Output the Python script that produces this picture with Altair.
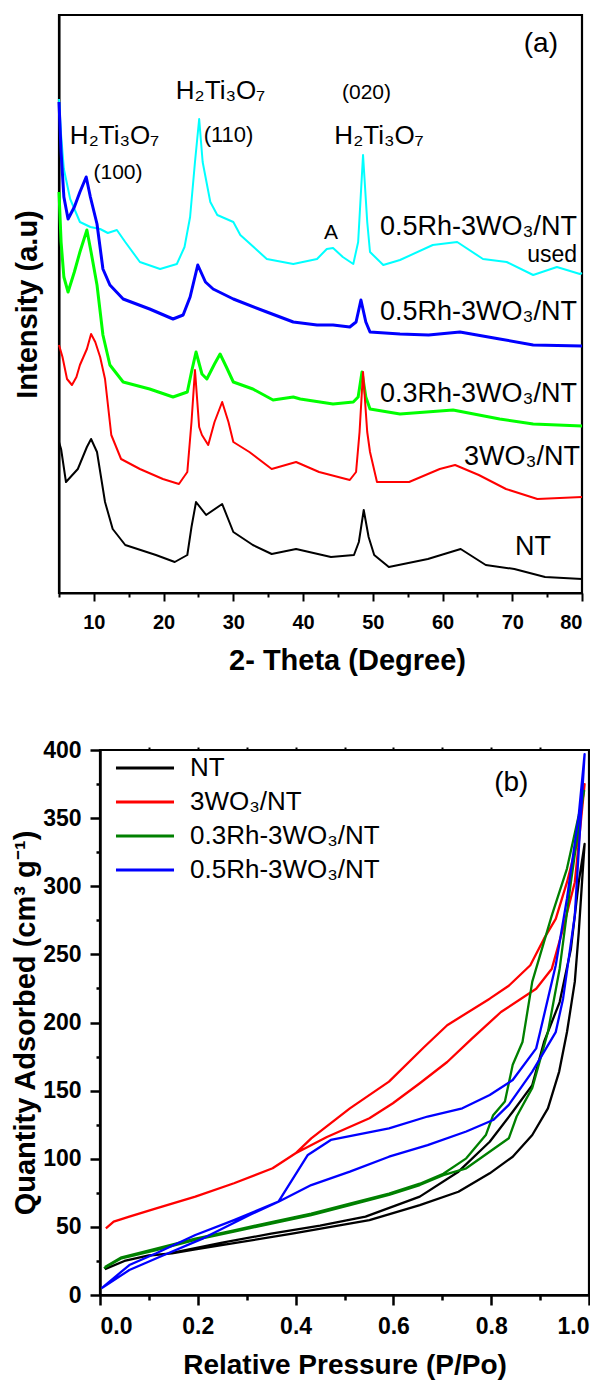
import altair as alt
import pandas as pd

FONT = "Liberation Sans, Arial, Noto Sans, DejaVu Sans, sans-serif"

# ---------------- Panel (a): XRD patterns (intensity in arbitrary units) ----------------
xrd_names = ["0.5Rh-3WO3/NT used", "0.5Rh-3WO3/NT", "0.3Rh-3WO3/NT", "3WO3/NT", "NT"]
xrd_colors = ["#00FFFF", "#0000FF", "#00FF00", "#FF0000", "#000000"]
xrd_widths = [2.0, 3.0, 3.0, 2.0, 2.0]

used_theta = [5.0, 5.3, 5.7, 6.6, 8.0, 9.5, 10.9, 12.0, 13.3, 14.5, 16.6, 19.5, 21.9, 23.0, 23.8,
              24.5, 25.1, 25.6, 26.7, 27.7, 30.0, 31.0, 34.8, 38.6, 42.0, 43.4, 44.3, 45.7, 47.2,
              47.9, 48.6, 49.2, 49.6, 51.5, 53.9, 58.6, 62.1, 65.8, 69.2, 73.0, 76.4, 79.7, 80.0]
used_int = [494, 458, 424, 394, 371, 366, 364, 360, 363, 351, 331, 324, 329, 346, 376,
            431, 474, 431, 391, 378, 371, 358, 334, 329, 334, 344, 345, 336, 329,
            351, 438, 371, 341, 328, 333, 348, 351, 334, 331, 318, 326, 319, 320]

rh5_theta = [5.0, 5.3, 5.7, 6.3, 7.2, 8.0, 8.9, 9.5, 10.45, 11.3, 12.3, 14.2, 18.0, 21.35, 22.8,
             23.8, 24.9, 26.0, 27.1, 30.0, 34.8, 38.6, 42.0, 44.3, 46.7, 47.6, 48.3, 49.0, 49.6,
             53.9, 58.0, 62.5, 68.2, 73.0, 80.0]
rh5_int = [491, 441, 396, 374, 386, 401, 416, 396, 369, 324, 308, 294, 284, 274, 278,
           296, 328, 311, 304, 294, 281, 271, 268, 268, 266, 271, 293, 271, 261,
           259, 258, 261, 254, 248, 247]

rh3_theta = [5.0, 5.3, 5.7, 6.3, 7.2, 8.0, 9.0, 9.6, 10.45, 11.3, 12.3, 14.2, 18.0, 21.35, 23.4,
             24.0, 24.65, 25.5, 26.2, 27.3, 28.1, 29.0, 30.0, 32.8, 35.7, 38.6, 39.6, 44.3, 47.2,
             47.9, 48.45, 49.0, 49.6, 53.9, 61.5, 68.2, 73.0, 80.0]
rh3_int = [401, 351, 316, 301, 321, 341, 363, 341, 308, 258, 228, 211, 204, 196, 201,
           221, 241, 219, 214, 229, 239, 226, 211, 204, 193, 196, 194, 189, 191,
           196, 221, 196, 184, 179, 183, 174, 169, 167]

wo3_theta = [5.0, 5.5, 6.15, 6.86, 7.5, 8.0, 9.0, 9.6, 10.2, 10.9, 11.6, 12.5, 13.9, 16.6, 19.9,
             22.2, 23.4, 24.0, 24.5, 25.1, 25.5, 26.4, 27.3, 28.4, 29.3, 30.0, 32.3, 35.5, 39.0,
             42.3, 46.7, 47.6, 48.1, 48.6, 49.2, 49.6, 50.6, 55.2, 59.6, 61.8, 65.2, 69.1, 73.6, 80.0]
wo3_int = [248, 236, 214, 208, 216, 228, 244, 259, 251, 236, 214, 158, 134, 124, 114,
           109, 121, 171, 223, 166, 158, 148, 171, 191, 171, 151, 141, 124, 131,
           121, 113, 121, 161, 221, 161, 141, 111, 111, 124, 128, 118, 104, 94, 96]

nt_theta = [5.0, 5.3, 6.0, 7.7, 9.0, 9.6, 10.45, 11.6, 12.7, 14.5, 18.9, 21.6, 23.4, 24.0, 24.65,
            26.1, 28.4, 30.0, 32.8, 35.5, 39.0, 44.0, 47.3, 48.0, 48.7, 49.4, 50.2, 52.3, 57.9,
            62.6, 66.2, 70.3, 74.7, 80.0]
nt_int = [151, 144, 111, 124, 146, 154, 141, 91, 64, 48, 38, 31, 38, 66, 91,
          78, 89, 61, 48, 39, 44, 36, 38, 51, 83, 56, 38, 26, 34,
          44, 28, 24, 16, 14]

ann_c_text = ["(a)", "H₂Ti₃O₇", "(100)", "H₂Ti₃O₇", "(110)", "(020)", "H₂Ti₃O₇", "A"]
ann_c_theta = [74.1, 12.96, 13.46, 28.16, 29.31, 49.1, 50.89, 44.0]
ann_c_int = [541, 449, 414, 494, 451, 494, 449, 354]
ann_c_size = [28, 26, 21, 26, 22, 21, 26, 21]

ann_r_text = ["0.5Rh-3WO₃/NT", "used", "0.5Rh-3WO₃/NT", "0.3Rh-3WO₃/NT", "3WO₃/NT", "NT"]
ann_r_theta = [79.29, 79.29, 79.29, 79.29, 79.7, 75.56]
ann_r_int = [358, 331, 273, 191, 128, 38]
ann_r_size = [27, 23, 27, 27, 27, 27]

# ---------------- Panel (b): N2 isotherms ----------------
iso_names = ["NT", "3WO₃/NT", "0.3Rh-3WO₃/NT", "0.5Rh-3WO₃/NT"]
iso_colors = ["#000000", "#FF0000", "#008000", "#0000FF"]

nt_P = [0.01, 0.05, 0.10, 0.147, 0.195, 0.274, 0.393, 0.472, 0.551, 0.654, 0.733, 0.797, 0.844,
        0.884, 0.916, 0.939, 0.955, 0.971, 0.979, 0.987, 0.991, 0.979, 0.963, 0.940, 0.908, 0.884,
        0.844, 0.797, 0.733, 0.654, 0.543, 0.450, 0.350, 0.250, 0.147]
nt_Q = [19, 25, 29, 30.5, 33.5, 38, 45, 50, 55, 66, 75.8, 89.3, 101.5,
        117.4, 137, 164, 193, 230, 266, 310, 331, 303, 254, 215, 185.7, 154,
        134.5, 112.5, 90.5, 72.2, 57.5, 51, 45, 38.5, 31]

wo_P = [0.012, 0.028, 0.06, 0.115, 0.195, 0.274, 0.353, 0.40, 0.464, 0.551, 0.599, 0.654, 0.71,
        0.76, 0.82, 0.892, 0.924, 0.947, 0.971, 0.991, 0.979, 0.955, 0.932, 0.908, 0.88, 0.836,
        0.797, 0.71, 0.663, 0.591, 0.511, 0.432, 0.40]
wo_Q = [48.9, 53.8, 57.5, 63.6, 72.2, 82, 93, 104, 116, 129.7, 140.7, 155.4, 171,
        188, 207.7, 224.8, 239.5, 269, 303, 375, 337, 303, 276, 261.5, 242, 227,
        217.5, 198, 182, 156.6, 137, 115, 104]

g_P = [0.008, 0.044, 0.115, 0.195, 0.274, 0.353, 0.432, 0.511, 0.591, 0.654, 0.702, 0.749, 0.812,
       0.836, 0.852, 0.884, 0.916, 0.94, 0.963, 0.987, 0.99, 0.955, 0.924, 0.884, 0.864, 0.844,
       0.828, 0.804, 0.789, 0.749, 0.702, 0.654, 0.591, 0.511, 0.432, 0.353, 0.274, 0.195, 0.115,
       0.044, 0.01]
g_Q = [19.6, 26.9, 33, 40.4, 46.5, 52.6, 58.7, 66, 73.4, 80.7, 88, 93, 109,
       115, 131, 152, 193, 239.5, 303, 364, 370, 313, 278.6, 230, 185.7, 169,
       142, 132, 117.4, 100.3, 89, 81.7, 74.5, 67, 59.7, 53.6, 47.5, 41.4, 34,
       27.7, 20.5]

b_P = [0.003, 0.06, 0.131, 0.211, 0.306, 0.365, 0.432, 0.511, 0.591, 0.67, 0.749, 0.804, 0.836,
       0.884, 0.932, 0.947, 0.971, 0.991, 0.979, 0.955, 0.932, 0.9, 0.892, 0.844, 0.797, 0.741,
       0.67, 0.591, 0.472, 0.425, 0.365, 0.274, 0.195, 0.115, 0.06, 0.003]
b_Q = [4.9, 18.3, 29.4, 41.6, 58.7, 68.5, 80.7, 90.5, 101.5, 110, 120, 128.4, 139.5,
       164, 193, 217.5, 278.6, 397, 352, 291, 242, 193, 181, 157.8, 146.8, 137,
       131, 122.3, 113.8, 102.8, 68.5, 55, 44, 30.6, 22, 4.9]

ann_b_text = ["(b)"]
ann_b_P = [0.841]
ann_b_Q = [370]
ann_b_size = [28]

# ---------------- build tables ----------------
rows = []
for name, th, iv, w in zip(xrd_names,
                           [used_theta, rh5_theta, rh3_theta, wo3_theta, nt_theta],
                           [used_int, rh5_int, rh3_int, wo3_int, nt_int], xrd_widths):
    for t, v in zip(th, iv):
        rows.append({"series": name, "theta": t, "intensity": v, "w": w})
xrd = pd.DataFrame(rows)

ann_c = pd.DataFrame({"text": ann_c_text, "theta": ann_c_theta, "intensity": ann_c_int, "fs": ann_c_size})
ann_r = pd.DataFrame({"text": ann_r_text, "theta": ann_r_theta, "intensity": ann_r_int, "fs": ann_r_size})

irows = []
for name, P, Q in zip(iso_names, [nt_P, wo_P, g_P, b_P], [nt_Q, wo_Q, g_Q, b_Q]):
    for i, (p, q) in enumerate(zip(P, Q)):
        irows.append({"sample": name, "P": p, "Q": q, "i": i})
iso = pd.DataFrame(irows)
ann_b = pd.DataFrame({"text": ann_b_text, "P": ann_b_P, "Q": ann_b_Q, "fs": ann_b_size})

# ---------------- panel (a) ----------------
xsc_a = alt.Scale(domain=[5, 80], nice=False, zero=False)
ysc_a = alt.Scale(domain=[0, 578], nice=False, zero=True)

axis_a_x = alt.Axis(orient="bottom", values=list(range(10, 81, 10)), tickSize=8, tickWidth=2,
                    tickColor="black", domainColor="black", domainWidth=2, grid=False,
                    labelFont=FONT, labelFontSize=20, labelFontWeight="bold", labelColor="black",
                    labelPadding=11, title="2- Theta (Degree)", titleFont=FONT, titleFontSize=29,
                    titleFontWeight="bold", titleColor="black", titlePadding=14, titleX=288)
axis_a_xminor = alt.Axis(orient="bottom", values=list(range(5, 80, 10)), tickSize=4, tickWidth=2,
                         tickColor="black", labels=False, domain=False, grid=False, title=None)
axis_a_y = alt.Axis(orient="left", ticks=False, labels=False, domainColor="black", domainWidth=2,
                    grid=False, title="Intensity (a.u)", titleFont=FONT, titleFontSize=29,
                    titleFontWeight="bold", titleColor="black", titlePadding=17)

lines_a = alt.Chart(xrd).mark_line(strokeJoin="round").encode(
    x=alt.X("theta:Q", scale=xsc_a, axis=axis_a_x),
    y=alt.Y("intensity:Q", scale=ysc_a, axis=axis_a_y),
    color=alt.Color("series:N", scale=alt.Scale(domain=xrd_names, range=xrd_colors), legend=None),
    strokeWidth=alt.StrokeWidth("w:Q", scale=None, legend=None),
    order=alt.Order("theta:Q"),
)
text_ac = alt.Chart(ann_c).mark_text(align="center", baseline="alphabetic", font=FONT, color="black").encode(
    x=alt.X("theta:Q", scale=xsc_a, axis=axis_a_xminor),
    y=alt.Y("intensity:Q", scale=ysc_a, axis=None),
    text="text:N",
    size=alt.Size("fs:Q", scale=None, legend=None),
)
text_ar = alt.Chart(ann_r).mark_text(align="right", baseline="alphabetic", font=FONT, color="black").encode(
    x=alt.X("theta:Q", scale=xsc_a, axis=None),
    y=alt.Y("intensity:Q", scale=ysc_a, axis=None),
    text="text:N",
    size=alt.Size("fs:Q", scale=None, legend=None),
)
panel_a = alt.layer(lines_a, text_ac, text_ar).resolve_axis(x="independent", y="independent").properties(
    width=523, height=578)

# ---------------- panel (b) ----------------
xsc_b = alt.Scale(domain=[0, 1], nice=False, zero=False)
ysc_b = alt.Scale(domain=[0, 400], nice=False)

axis_b_x = alt.Axis(orient="bottom", values=[0, 0.2, 0.4, 0.6, 0.8, 1.0], format=".1f", tickSize=10,
                    tickWidth=2.5, tickColor="black", domainColor="black", domainWidth=2.5, grid=False,
                    labelFont=FONT, labelFontSize=23, labelFontWeight="bold", labelColor="black",
                    labelPadding=10, title="Relative Pressure (P/Po)", titleFont=FONT, titleFontSize=28,
                    titleFontWeight="bold", titleColor="black", titlePadding=13)
axis_b_xminor = alt.Axis(orient="bottom", values=[0.1, 0.3, 0.5, 0.7, 0.9], tickSize=5, tickWidth=2.5,
                         tickColor="black", labels=False, domain=False, grid=False, title=None)
axis_b_xtop = alt.Axis(orient="top", values=[0.1, 0.2, 0.3, 0.4, 0.5, 0.6, 0.7, 0.8, 0.9], tickSize=3,
                       tickWidth=2, tickColor="black", labels=False, domain=False, grid=False, title=None)
axis_b_y = alt.Axis(orient="left", values=list(range(0, 401, 50)), tickSize=10, tickWidth=2.5,
                    tickColor="black", domainColor="black", domainWidth=2.5, grid=False,
                    labelFont=FONT, labelFontSize=23, labelFontWeight="bold", labelColor="black",
                    labelPadding=9, title="Quantity Adsorbed (cm³ g⁻¹)", titleFont=FONT, titleFontSize=29,
                    titleFontWeight="bold", titleColor="black", titlePadding=2)
axis_b_yminor = alt.Axis(orient="left", values=list(range(25, 400, 50)), tickSize=4, tickWidth=2.5,
                         tickColor="black", labels=False, domain=False, grid=False, title=None)

legend_b = alt.Legend(orient="none", legendX=124, legendY=5, title=None, symbolType="M-3,0H3",
                      symbolSize=374, symbolStrokeWidth=3, labelFont=FONT, labelFontSize=26,
                      labelColor="black", labelOffset=32, rowPadding=8, padding=0, labelLimit=400)

lines_b = alt.Chart(iso).mark_line(strokeWidth=2.3, strokeJoin="round").encode(
    x=alt.X("P:Q", scale=xsc_b, axis=axis_b_x),
    y=alt.Y("Q:Q", scale=ysc_b, axis=axis_b_y),
    color=alt.Color("sample:N", scale=alt.Scale(domain=iso_names, range=iso_colors), legend=legend_b),
    order=alt.Order("i:Q"),
)
text_b = alt.Chart(ann_b).mark_text(align="center", baseline="alphabetic", font=FONT, color="black").encode(
    x=alt.X("P:Q", scale=xsc_b, axis=axis_b_xminor),
    y=alt.Y("Q:Q", scale=ysc_b, axis=axis_b_yminor),
    text="text:N",
    size=alt.Size("fs:Q", scale=None, legend=None),
)
top_b = alt.Chart(ann_b).mark_point(opacity=0).encode(
    x=alt.X("P:Q", scale=xsc_b, axis=axis_b_xtop),
    y=alt.Y("Q:Q", scale=ysc_b, axis=None),
)
panel_b = alt.layer(lines_b, text_b, top_b).resolve_axis(x="independent", y="independent").properties(
    width=489, height=545)

# invisible spacers that set the horizontal offset of each panel
spacer_df = pd.DataFrame({"s": [0]})


def spacer(w):
    return alt.Chart(spacer_df).mark_point(opacity=0, size=0).properties(
        width=w, height=2, view=alt.ViewBackground(stroke="transparent"))


row_a = alt.hconcat(spacer(2), panel_a, spacing=0)
row_b = alt.hconcat(spacer(1), panel_b, spacing=0)

chart = alt.vconcat(row_a, row_b, spacing=60).resolve_scale(color="independent").properties(
    padding={"left": -1, "top": 5, "right": -2, "bottom": 0}
).configure_view(stroke="black", strokeWidth=2.2)

chart.save("out.html", embed_options={"renderer": "svg", "actions": False})
